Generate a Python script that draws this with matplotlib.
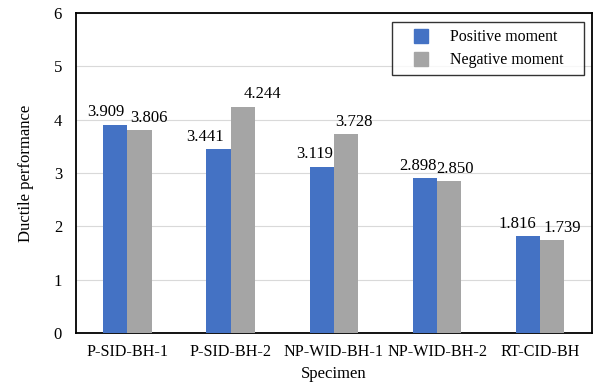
import numpy as np
import matplotlib.pyplot as plt
from matplotlib.lines import Line2D

plt.rcParams['font.family'] = ['Liberation Serif', 'DejaVu Serif']

# data
specimens = ["P-SID-BH-1", "P-SID-BH-2", "NP-WID-BH-1", "NP-WID-BH-2", "RT-CID-BH"]
positive = [3.909, 3.441, 3.119, 2.898, 1.816]
negative = [3.806, 4.244, 3.728, 2.850, 1.739]

# horizontal nudge of the value labels (points), as placed in the original
pos_shift = [-7, -10, -5, -5, -8]
neg_shift = [7, 14, 6, 4, 7]

blue = "#4472C4"
grey = "#A5A5A5"

x = np.arange(len(specimens))
w = 0.235

fig = plt.figure(figsize=(5.93, 3.84), dpi=100)
ax = fig.add_axes([0.128, 0.133, 0.87, 0.833])

ax.bar(x - w/2, positive, w, color=blue, zorder=3)
ax.bar(x + w/2, negative, w, color=grey, zorder=3)

for xi, v, dx in zip(x - w/2, positive, pos_shift):
    ax.annotate(f"{v:.3f}", (xi, v), xytext=(dx, 6), textcoords="offset points",
                ha="center", va="baseline", fontsize=12)
for xi, v, dx in zip(x + w/2, negative, neg_shift):
    ax.annotate(f"{v:.3f}", (xi, v), xytext=(dx, 6), textcoords="offset points",
                ha="center", va="baseline", fontsize=12)

ax.set_xlim(-0.5, len(specimens) - 0.5)
ax.set_ylim(0, 6)
ax.set_yticks(range(7))
ax.set_xticks(x)
ax.set_xticklabels(specimens, fontsize=11.6)
ax.tick_params(axis="y", labelsize=12, length=0, pad=10)
ax.tick_params(axis="x", length=0, pad=8)
ax.grid(axis="y", color="#D9D9D9", linewidth=0.8, zorder=0)

for s in ax.spines.values():
    s.set_linewidth(1.3)
    s.set_color("black")

ax.set_xlabel("Specimen", fontsize=12, labelpad=4)
ax.set_ylabel("Ductile performance", fontsize=12, labelpad=14)

handles = [Line2D([], [], marker="s", ls="", markersize=9.5, color=blue),
           Line2D([], [], marker="s", ls="", markersize=9.5, color=grey)]
leg = ax.legend(handles, ["Positive moment", "Negative moment"],
                loc="upper left", bbox_to_anchor=(0.612, 0.972, 0.372, 0.0),
                mode="expand", fontsize=11.4,
                fancybox=False, edgecolor="black", handlelength=2.8,
                handletextpad=0.45, borderpad=0.45, labelspacing=0.45,
                borderaxespad=0)
leg.get_frame().set_linewidth(1.0)

fig.savefig("out.png", dpi=100)
